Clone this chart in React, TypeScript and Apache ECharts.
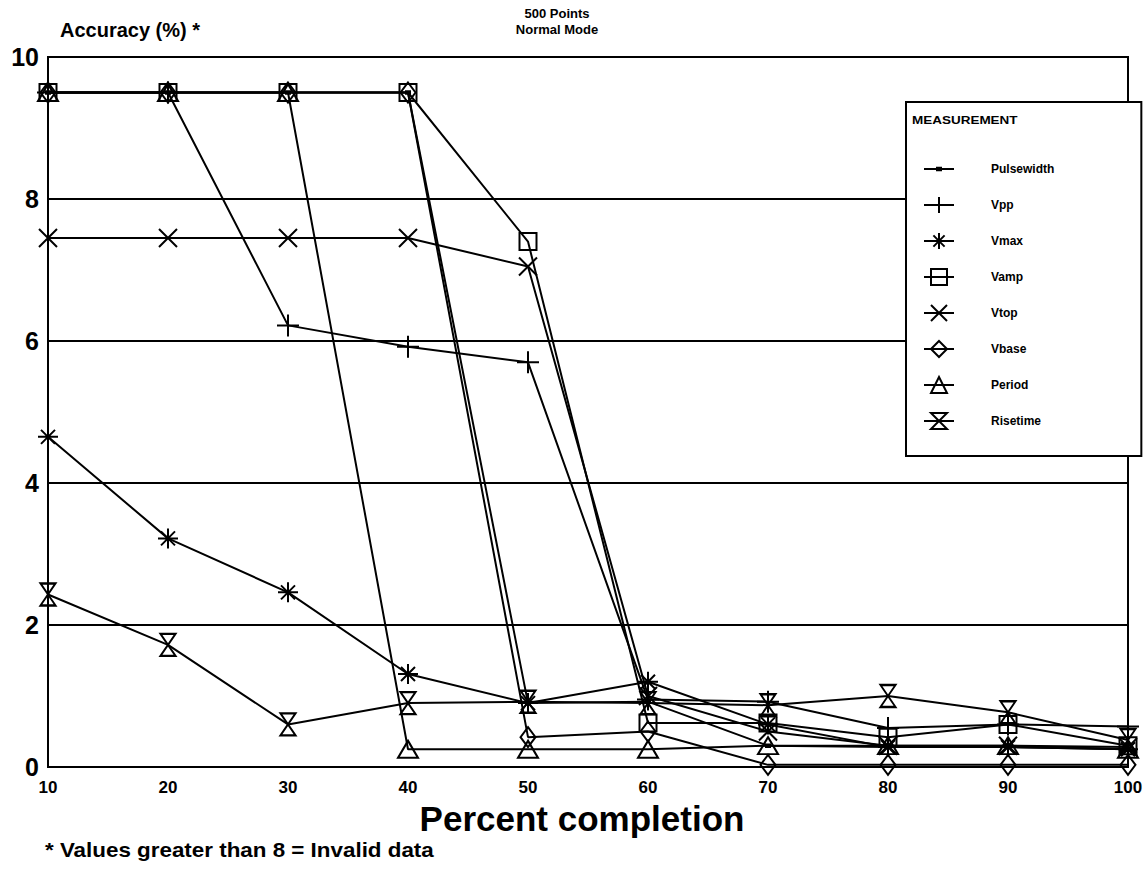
import React, { useEffect, useRef } from "react";
import * as echarts from "echarts";

const percentCompletion = [10, 20, 30, 40, 50, 60, 70, 80, 90, 100];

const pulsewidth = [9.5, 9.5, 9.5, 9.5, 0.9, 0.92, 0.3, 0.28, 0.28, 0.25];
const vpp = [9.5, 9.5, 6.22, 5.92, 5.7, 0.95, 0.92, 0.55, 0.6, 0.57];
const vmax = [4.65, 3.22, 2.46, 1.31, 0.9, 1.2, 0.6, 0.28, 0.28, 0.25];
const vamp = [9.5, 9.5, 9.5, 9.5, 7.4, 0.62, 0.62, 0.42, 0.6, 0.3];
const vtop = [7.45, 7.45, 7.45, 7.45, 7.05, 1.0, 0.5, 0.3, 0.3, 0.28];
const vbase = [9.5, 9.5, 9.5, 9.5, 0.42, 0.5, 0.03, 0.03, 0.03, 0.03];
const period = [9.5, 9.5, 9.5, 0.25, 0.25, 0.25, 0.3, 0.3, 0.3, 0.25];
const risetime = [2.43, 1.72, 0.6, 0.9, 0.92, 0.9, 0.87, 1.0, 0.77, 0.38];

const chartTitle = "500 Points\nNormal Mode";
const yAxisTitle = "Accuracy (%) *";
const xAxisTitle = "Percent completion";
const legendTitle = "MEASUREMENT";
const footnote = "* Values greater than 8 = Invalid data";

const SYM = {
  dot: "path://M0 0 M20 20 M7.5 8.5 L12.5 8.5 L12.5 11.5 L7.5 11.5 Z",
  plus: "path://M10 0 L10 20 M0 10 L20 10",
  asterisk: "path://M10 0 L10 20 M0 10 L20 10 M3 3 L17 17 M17 3 L3 17",
  square: "path://M0 0 L20 0 L20 20 L0 20 Z",
  cross: "path://M0 0 L20 20 M20 0 L0 20",
  diamond: "path://M10 0 L20 10 L10 20 L0 10 Z",
  triangle: "path://M10 0 L20 20 L0 20 Z",
  hourglass: "path://M0 0 L20 0 L0 20 L20 20 Z",
};

function mk(name: string, data: number[], symbol: string, size: any, filled = false) {
  return {
    type: "line",
    name,
    data: percentCompletion.map((x, i) => [x, data[i]]),
    symbol,
    symbolSize: size,
    clip: false,
    z: 3,
    lineStyle: { color: "#000", width: 2 },
    itemStyle: {
      color: filled ? "#000" : "rgba(0,0,0,0)",
      borderColor: "#000",
      borderWidth: 2,
    },
    emphasis: { disabled: true },
  };
}

export default function App() {
  const ref = useRef<HTMLDivElement>(null);
  useEffect(() => {
    document.body.style.margin = "0";
    const chart = echarts.init(ref.current!, null, { renderer: "svg" });
    const font = "'Liberation Sans', Arial, sans-serif";
    chart.setOption({
      animation: false,
      backgroundColor: "#fff",
      textStyle: { fontFamily: font, color: "#000" },
      grid: {
        left: 48,
        right: 19,
        top: 57,
        bottom: 111,
        show: true,
        borderColor: "#000",
        borderWidth: 2,
        containLabel: false,
      },
      xAxis: {
        type: "value",
        min: 10,
        max: 100,
        interval: 10,
        name: xAxisTitle,
        nameLocation: "middle",
        nameGap: 41,
        nameTextStyle: {
          fontSize: 35,
          fontWeight: "bold",
          color: "#000",
          verticalAlign: "middle",
          fontFamily: font,
          padding: [0, 12, 0, 0],
        },
        axisLine: { show: true, lineStyle: { color: "#000", width: 2 } },
        axisTick: { show: false },
        splitLine: { show: false },
        axisLabel: {
          fontSize: 17,
          fontWeight: "bold",
          color: "#000",
          margin: 12,
          fontFamily: font,
        },
      },
      yAxis: {
        type: "value",
        min: 0,
        max: 10,
        interval: 2,
        name: yAxisTitle,
        nameLocation: "end",
        nameGap: 27,
        nameTextStyle: {
          fontSize: 20,
          fontWeight: "bold",
          color: "#000",
          align: "left",
          verticalAlign: "middle",
          padding: [0, 0, 0, 12],
          fontFamily: font,
        },
        axisLine: { show: true, lineStyle: { color: "#000", width: 2 } },
        axisTick: { show: false },
        splitLine: { show: true, lineStyle: { color: "#000", width: 2 } },
        axisLabel: {
          fontSize: 25,
          fontWeight: "bold",
          color: "#000",
          margin: 9,
          fontFamily: font,
        },
      },
      legend: {
        orient: "vertical",
        left: 906,
        top: 102,
        padding: [58, 87, 26, 17],
        itemWidth: 30,
        itemHeight: 20,
        itemGap: 18,
        borderColor: "#000",
        borderWidth: 2,
        backgroundColor: "#fff",
        selectedMode: false,
        textStyle: {
          fontSize: 12,
          fontWeight: "bold",
          color: "#000",
          fontFamily: font,
          padding: [0, 0, 0, 32],
        },
        data: ["Pulsewidth", "Vpp", "Vmax", "Vamp", "Vtop", "Vbase", "Period", "Risetime"],
      },
      graphic: [
        {
          type: "text",
          x: 557,
          y: 5,
          z: 10,
          style: {
            text: chartTitle,
            fontSize: 13,
            fontWeight: "bold",
            fontFamily: font,
            fill: "#000",
            align: "center",
            lineHeight: 16,
          },
        },
        {
          type: "text",
          x: 912,
          y: 121,
          z: 10,
          scaleX: 1.35,
          style: {
            text: legendTitle,
            fontSize: 10,
            fontWeight: "bold",
            fontFamily: font,
            fill: "#000",
            verticalAlign: "middle",
          },
        },
        {
          type: "text",
          x: 45,
          y: 850,
          z: 10,
          scaleX: 1.12,
          style: {
            text: footnote,
            fontSize: 20,
            fontWeight: "bold",
            fontFamily: font,
            fill: "#000",
            verticalAlign: "middle",
          },
        },
      ],
      series: [
        mk("Pulsewidth", pulsewidth, SYM.dot, 16, true),
        mk("Vpp", vpp, SYM.plus, 22),
        mk("Vmax", vmax, SYM.asterisk, 20),
        mk("Vamp", vamp, SYM.square, 17),
        mk("Vtop", vtop, SYM.cross, 18),
        mk("Vbase", vbase, SYM.diamond, [15, 20]),
        mk("Period", period, SYM.triangle, [20, 17]),
        mk("Risetime", risetime, SYM.hourglass, [15, 22]),
      ],
    });
    return () => chart.dispose();
  }, []);
  return <div ref={ref} style={{ width: 1147, height: 878 }} />;
}
